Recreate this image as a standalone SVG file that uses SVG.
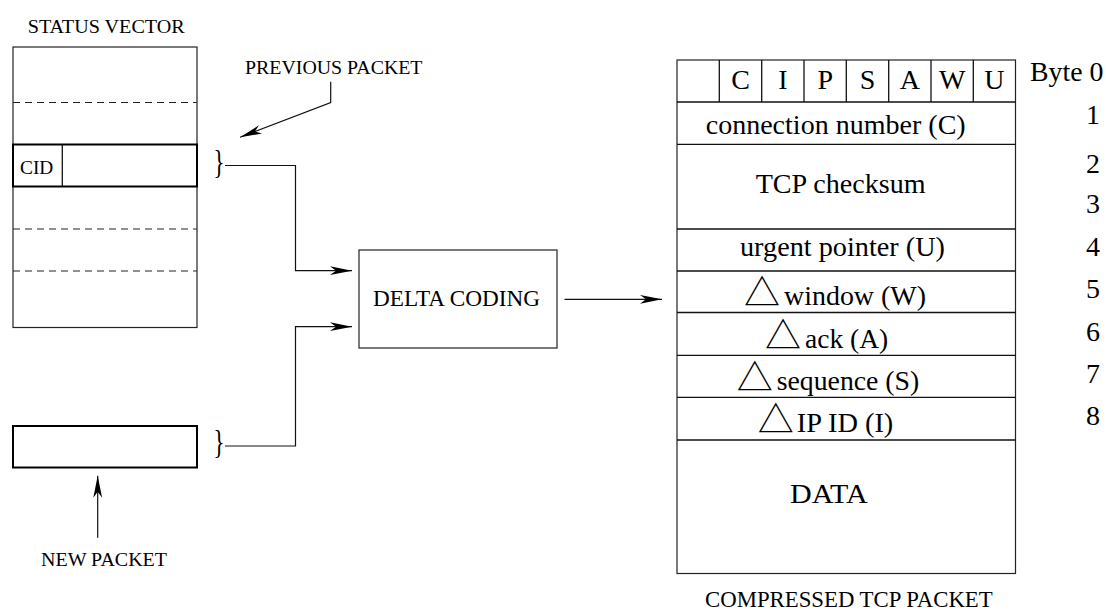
<svg xmlns="http://www.w3.org/2000/svg" width="1106" height="610" viewBox="0 0 1106 610">
  <style>
    .lbl { font-family: "Liberation Serif", "Times New Roman", serif; fill: #000; }
    .sm { font-size: 19.5px; }
    .md { font-size: 22.5px; }
    .lg { font-size: 28px; }
    .cap { font-size: 22.5px; }
    .tri { font-family: "Noto Sans CJK JP", "DejaVu Sans", sans-serif; font-size: 36px; fill: #000; }
    .brace { font-family: "Liberation Serif", "Times New Roman", serif; font-size: 34px; fill: #000; }
    .box { fill: #fff; stroke: #222; stroke-width: 1.2; }
    .bold { fill: none; stroke: #000; stroke-width: 2; }
    .rule { fill: none; stroke: #111; stroke-width: 1.3; }
    .dash { fill: none; stroke: #222; stroke-width: 1; stroke-dasharray: 7 5; }
    .wire { fill: none; stroke: #111; stroke-width: 1.2; marker-end: url(#arrow); }
  </style>
  <defs>
    <marker id="arrow" viewBox="0 0 22 10" refX="22" refY="5" markerWidth="22" markerHeight="10" orient="auto" markerUnits="userSpaceOnUse">
      <path d="M0,0.6 L22,5 L0,9.4 L6,5 Z" fill="#000"/>
    </marker>
  </defs>
  <rect width="1106" height="610" fill="#fff"/>

  <!-- status vector table -->
  <g id="status-vector">
    <text class="lbl sm" x="27.7" y="32.5" textLength="157" lengthAdjust="spacingAndGlyphs">STATUS VECTOR</text>
    <rect class="box" x="13" y="47" width="184" height="280.5"/>
    <line class="dash" x1="13" y1="102.5" x2="197" y2="102.5"/>
    <line class="dash" x1="13" y1="229" x2="197" y2="229"/>
    <line class="dash" x1="13" y1="271" x2="197" y2="271"/>
  </g>

  <g id="cid-entry">
    <rect class="bold" x="13" y="144.5" width="184" height="42"/>
    <line class="rule" x1="62.3" y1="144.5" x2="62.3" y2="186.5"/>
    <text class="lbl sm" x="20" y="173.5" textLength="33.3" lengthAdjust="spacingAndGlyphs">CID</text>
    <text class="brace" x="213.5" y="172.5" textLength="11" lengthAdjust="spacingAndGlyphs">}</text>
  </g>

  <g id="previous-packet">
    <text class="lbl sm" x="245" y="74.3" textLength="177.5" lengthAdjust="spacingAndGlyphs">PREVIOUS PACKET</text>
  </g>

  <g id="new-packet">
    <rect class="bold" x="13" y="426" width="184" height="41.5"/>
    <text class="brace" x="213.5" y="453" textLength="11" lengthAdjust="spacingAndGlyphs">}</text>
    <text class="lbl sm" x="41" y="566" textLength="126" lengthAdjust="spacingAndGlyphs">NEW PACKET</text>
  </g>

  <g id="delta-coding">
    <rect class="box" x="359" y="250" width="198" height="98"/>
    <text class="lbl md" x="373" y="306" textLength="167" lengthAdjust="spacingAndGlyphs">DELTA CODING</text>
  </g>

  <!-- compressed packet layout -->
  <g id="compressed-packet">
    <rect class="box" x="677" y="60" width="338.5" height="513.5"/>
    <g class="rule">
      <line x1="719.3" y1="60" x2="719.3" y2="102"/>
      <line x1="761.7" y1="60" x2="761.7" y2="102"/>
      <line x1="804" y1="60" x2="804" y2="102"/>
      <line x1="846.3" y1="60" x2="846.3" y2="102"/>
      <line x1="888.7" y1="60" x2="888.7" y2="102"/>
      <line x1="931" y1="60" x2="931" y2="102"/>
      <line x1="973.3" y1="60" x2="973.3" y2="102"/>
      <line x1="677" y1="102" x2="1015.5" y2="102"/>
      <line x1="677" y1="144.3" x2="1015.5" y2="144.3"/>
      <line x1="677" y1="229" x2="1015.5" y2="229"/>
      <line x1="677" y1="271" x2="1015.5" y2="271"/>
      <line x1="677" y1="312.5" x2="1015.5" y2="312.5"/>
      <line x1="677" y1="355.3" x2="1015.5" y2="355.3"/>
      <line x1="677" y1="397.3" x2="1015.5" y2="397.3"/>
      <line x1="677" y1="440" x2="1015.5" y2="440"/>
    </g>
    <g class="lbl lg" text-anchor="middle">
      <text x="740.5" y="89">C</text>
      <text x="782.8" y="89">I</text>
      <text x="825.2" y="89">P</text>
      <text x="867.5" y="89">S</text>
      <text x="909.8" y="89">A</text>
      <text x="952.2" y="89">W</text>
      <text x="994.4" y="89">U</text>
    </g>
    <text class="lbl lg" x="705.7" y="133.5" textLength="260" lengthAdjust="spacingAndGlyphs">connection number (C)</text>
    <text class="lbl lg" x="755.7" y="193.3" textLength="170" lengthAdjust="spacingAndGlyphs">TCP checksum</text>
    <text class="lbl lg" x="740" y="256" textLength="205" lengthAdjust="spacingAndGlyphs">urgent pointer (U)</text>
    <g class="tri" text-anchor="middle">
      <text x="762" y="305.5">△</text>
      <text x="783" y="349">△</text>
      <text x="754.7" y="390.5">△</text>
      <text x="775.7" y="432.5">△</text>
    </g>
    <text class="lbl lg" x="784" y="305" textLength="142" lengthAdjust="spacingAndGlyphs">window (W)</text>
    <text class="lbl lg" x="805" y="348.3" textLength="83.3" lengthAdjust="spacingAndGlyphs">ack (A)</text>
    <text class="lbl lg" x="776.7" y="389.8" textLength="142.6" lengthAdjust="spacingAndGlyphs">sequence (S)</text>
    <text class="lbl lg" x="796.7" y="432" textLength="96.6" lengthAdjust="spacingAndGlyphs">IP ID (I)</text>
    <text class="lbl lg" x="790" y="503.3" textLength="77.7" lengthAdjust="spacingAndGlyphs">DATA</text>
    <text class="lbl cap" x="705" y="606.5" textLength="287.7" lengthAdjust="spacingAndGlyphs">COMPRESSED TCP PACKET</text>
  </g>

  <!-- byte offsets beside the packet -->
  <g id="byte-index">
    <text class="lbl lg" x="1030" y="80.5" textLength="73.3" lengthAdjust="spacingAndGlyphs">Byte 0</text>
    <g class="lbl lg" text-anchor="middle">
      <text x="1093" y="123.5">1</text>
      <text x="1093" y="172.7">2</text>
      <text x="1093" y="213.3">3</text>
      <text x="1093" y="255.7">4</text>
      <text x="1093" y="298.3">5</text>
      <text x="1093" y="341">6</text>
      <text x="1093" y="383.3">7</text>
      <text x="1093" y="425">8</text>
    </g>
  </g>

  <g id="connectors">
    <path class="wire" d="M225,165.5 H295.5 V270.7 H352"/>
    <path class="wire" d="M225,446 H295.5 V326.7 H352"/>
    <path class="wire" d="M564.5,299.3 H662"/>
    <path class="wire" d="M330.7,81.7 V102.5 L240,137.3"/>
    <path class="wire" d="M97.7,537.7 V475.7"/>
  </g>
</svg>
